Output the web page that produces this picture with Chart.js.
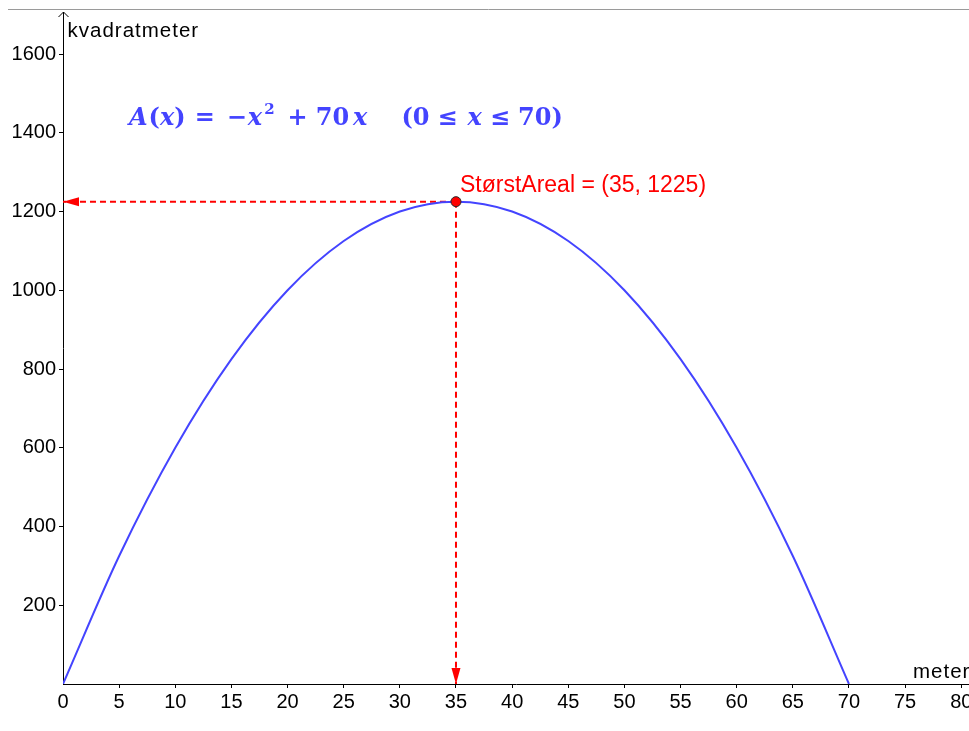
<!DOCTYPE html>
<html>
<head>
<meta charset="utf-8">
<script src="https://cdn.jsdelivr.net/npm/chart.js@4/dist/chart.umd.min.js"></script>
<style>
  html, body { margin: 0; padding: 0; background: #ffffff; overflow: hidden; }
  #wrap { position: relative; width: 969px; height: 731px; }
  #c { display: block; }
</style>
</head>
<body>
<div id="wrap"><canvas id="c"></canvas></div>
<script>
// Side length x (metres) and the area A(x) = -x^2 + 70x (square metres)
const xValues = [0, 5, 10, 15, 20, 25, 30, 35, 40, 45, 50, 55, 60, 65, 70];
const areaValues = [0, 325, 600, 825, 1000, 1125, 1200, 1225, 1200, 1125, 1000, 825, 600, 325, 0];

// Maximum of the area function
const maxX = 35;
const maxArea = 1225;
const maxLabel = 'StørstAreal = (35, 1225)';

// Axis ticks and titles
const xTicks = [0, 5, 10, 15, 20, 25, 30, 35, 40, 45, 50, 55, 60, 65, 70, 75, 80];
const yTicks = [200, 400, 600, 800, 1000, 1200, 1400, 1600];
const xTitle = 'meter';
const yTitle = 'kvadratmeter';
const xRange = [0, 80.69];
const yRange = [0, 1706.7];

// Formula runs: gap before the run (px), text, style
const formulaRuns = [
  [0, 'A', 'it'], [1, '(', 'up'], [0, 'x', 'it'], [0, ')', 'up'],
  [9, '=', 'up'],
  [12, '\u2212', 'up'], [1, 'x', 'it'], [2, '2', 'sup'],
  [13, '+', 'up'],
  [8, '70', 'up'], [4, 'x', 'it'],
  [34, '(0', 'up'], [8, '\u2264', 'up'], [10, 'x', 'it'], [8, '\u2264', 'up'], [8, '70)', 'up']
];

const BLUE = 'rgb(68, 68, 255)';
const RED = 'rgb(255, 0, 0)';
const SANS = '"Liberation Sans", Arial, sans-serif';
const SERIF = '"DejaVu Serif", serif';

const curve = xValues.map((x, i) => ({ x: x, y: areaValues[i] }));

// Window rule, axis arrow, axis titles, arrowheads, point label and formula
const decorations = {
  id: 'decorations',
  beforeDraw(chart) {
    const ctx = chart.ctx;
    ctx.save();
    ctx.strokeStyle = '#9a9a9a';
    ctx.lineWidth = 1;
    ctx.beginPath();
    ctx.moveTo(8, 9.5);
    ctx.lineTo(chart.width, 9.5);
    ctx.stroke();
    ctx.restore();
  },
  afterDatasetsDraw(chart) {
    const ctx = chart.ctx;
    const xs = chart.scales.x, ys = chart.scales.y;
    const area = chart.chartArea;
    ctx.save();

    // open arrow at the top of the y axis
    const ax = Math.round(xs.getPixelForValue(0)) + 0.5;
    ctx.strokeStyle = '#000';
    ctx.lineWidth = 1;
    ctx.beginPath();
    ctx.moveTo(ax - 5, area.top + 5);
    ctx.lineTo(ax, area.top);
    ctx.lineTo(ax + 5, area.top + 5);
    ctx.stroke();

    // arrowheads at the ends of the dashed guide lines
    chart.data.datasets.forEach((ds, i) => {
      if (!ds.arrowEnd) return;
      const pts = chart.getDatasetMeta(i).data;
      const a = pts[pts.length - 2], b = pts[pts.length - 1];
      const ang = Math.atan2(b.y - a.y, b.x - a.x);
      const len = 16, half = 4.5;
      ctx.fillStyle = RED;
      ctx.beginPath();
      ctx.moveTo(b.x, b.y);
      ctx.lineTo(b.x - len * Math.cos(ang) - half * Math.sin(ang), b.y - len * Math.sin(ang) + half * Math.cos(ang));
      ctx.lineTo(b.x - len * Math.cos(ang) + half * Math.sin(ang), b.y - len * Math.sin(ang) - half * Math.cos(ang));
      ctx.closePath();
      ctx.fill();
    });

    // axis titles
    ctx.fillStyle = '#000';
    ctx.textBaseline = 'alphabetic';
    ctx.textAlign = 'left';
    ctx.font = '20.5px ' + SANS;
    ctx.letterSpacing = '1px';
    ctx.fillText(yTitle, ax + 4, 37);
    ctx.fillText(xTitle, 913, ys.getPixelForValue(0) - 6);
    ctx.letterSpacing = '0px';

    // label of the maximum point
    const px = xs.getPixelForValue(maxX), py = ys.getPixelForValue(maxArea);
    ctx.fillStyle = RED;
    ctx.font = '23px ' + SANS;
    ctx.fillText(maxLabel, px + 4, py - 10);

    // formula A(x) = -x^2 + 70 x   (0 <= x <= 70)
    const fy = 125;
    let fx = 129;
    ctx.fillStyle = BLUE;
    formulaRuns.forEach(run => {
      const kind = run[2];
      ctx.font = kind === 'it' ? 'italic bold 24px ' + SERIF
        : kind === 'sup' ? 'bold 15px ' + SERIF
        : 'bold 24px ' + SERIF;
      fx += run[0];
      ctx.fillText(run[1], fx, kind === 'sup' ? fy - 11 : fy);
      fx += ctx.measureText(run[1]).width;
    });
    ctx.restore();
  }
};

new Chart(document.getElementById('c'), {
  type: 'line',
  data: {
    datasets: [
      {
        data: [{ x: maxX, y: maxArea }],
        showLine: false,
        pointRadius: 5,
        pointBackgroundColor: RED,
        pointBorderColor: '#2a2a2a',
        pointBorderWidth: 1,
        order: 0
      },
      {
        data: curve,
        borderColor: BLUE,
        borderWidth: 2,
        pointRadius: 0,
        cubicInterpolationMode: 'monotone',
        fill: false,
        order: 1
      },
      {
        data: [{ x: maxX, y: maxArea }, { x: 0, y: maxArea }],
        borderColor: RED,
        borderWidth: 2,
        borderDash: [6, 4],
        pointRadius: 0,
        arrowEnd: true,
        order: 2
      },
      {
        data: [{ x: maxX, y: maxArea }, { x: maxX, y: 0 }],
        borderColor: RED,
        borderWidth: 2,
        borderDash: [6, 4],
        pointRadius: 0,
        arrowEnd: true,
        order: 2
      }
    ]
  },
  options: {
    responsive: true,
    maintainAspectRatio: false,
    animation: false,
    events: [],
    layout: { autoPadding: false, padding: { top: 12, right: 0, bottom: 0, left: 0 } },
    plugins: { legend: { display: false }, tooltip: { enabled: false } },
    scales: {
      x: {
        type: 'linear',
        min: xRange[0],
        max: xRange[1],
        afterBuildTicks: s => { s.ticks = xTicks.map(v => ({ value: v })); },
        afterFit: s => { s.height = 47; s.paddingLeft = 0; s.paddingRight = 0; },
        border: { display: true, color: '#000', width: 1 },
        grid: {
          drawOnChartArea: false,
          drawTicks: true,
          tickLength: 4,
          tickColor: c => (c.tick && c.tick.value === 0) ? 'rgba(0,0,0,0)' : '#000'
        },
        ticks: {
          autoSkip: false,
          maxRotation: 0,
          padding: 2,
          color: '#000',
          font: { family: SANS, size: 20 },
          callback: v => String(v)
        }
      },
      y: {
        type: 'linear',
        min: yRange[0],
        max: yRange[1],
        afterBuildTicks: s => { s.ticks = yTicks.map(v => ({ value: v })); },
        afterFit: s => { s.width = 63; s.paddingTop = 0; s.paddingBottom = 0; },
        border: { display: true, color: '#000', width: 1 },
        grid: { drawOnChartArea: false, drawTicks: true, tickLength: 4, tickColor: '#000' },
        ticks: {
          autoSkip: false,
          padding: 3,
          color: '#000',
          font: { family: SANS, size: 20 },
          callback: v => String(v)
        }
      }
    }
  },
  plugins: [decorations]
});
</script>
</body>
</html>
